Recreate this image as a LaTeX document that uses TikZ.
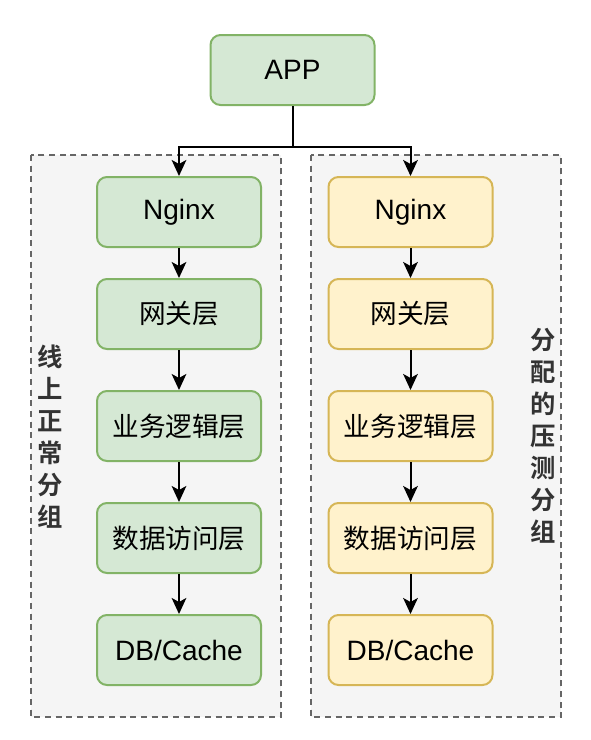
\documentclass[tikz,border=0pt]{standalone}
\usepackage{fontspec}
\setmainfont{Liberation Sans}
\newfontfamily\cjk{Noto Sans CJK SC}[BoldFont={Noto Sans CJK SC Bold}]
\usetikzlibrary{arrows.meta}

\definecolor{grpfill}{RGB}{245,245,245}
\definecolor{grpline}{RGB}{102,102,102}
\definecolor{greenfill}{RGB}{213,232,212}
\definecolor{greenline}{RGB}{130,179,102}
\definecolor{yellowfill}{RGB}{255,242,204}
\definecolor{yellowline}{RGB}{214,182,86}
\definecolor{labeltext}{RGB}{51,51,51}

\tikzset{every picture/.style={line width=1.5pt}}
\tikzset{
  layerbox/.style={rounded corners=7.5pt, minimum width=123pt, minimum height=52.5pt,
    inner sep=0pt, font=\fontsize{21}{25}\selectfont},
  onlinebox/.style={layerbox, draw=greenline, fill=greenfill},
  testbox/.style={layerbox, draw=yellowline, fill=yellowfill},
  zhtext/.style={font=\cjk\fontsize{20}{24}\selectfont},
  grouplabel/.style={align=center, inner sep=0pt, text=labeltext,
    font=\cjk\bfseries\fontsize{19}{24}\selectfont},
  arr/.style={-{Stealth[length=12pt, width=11pt, inset=3pt]}}
}

\begin{document}
\begin{tikzpicture}[x=0.75pt,y=0.75pt,yscale=-1,xscale=1]
\useasboundingbox (0,0) rectangle (590,740); %set diagram size 590x740

%Shape: Rectangle [id:grp_online] 
\draw [draw=grpline, fill=grpfill, line width=1.5pt, dash pattern=on 4.5pt off 3.5pt] (31,155) rectangle (281,717) ;
%Shape: Rectangle [id:grp_test] 
\draw [draw=grpline, fill=grpfill, line width=1.5pt, dash pattern=on 4.5pt off 3.5pt] (311,155) rectangle (561,717) ;

%Shape: Rounded Rectangle [id:app] 
\node [onlinebox] (app) at (292.5,70) {APP};

%Shape: Rounded Rectangles, online group
\node [onlinebox] (on_nginx) at (179,212) {Nginx};
\node [onlinebox, zhtext] (on_gw) at (179,314) {网关层};
\node [onlinebox, zhtext] (on_biz) at (179,426) {业务逻辑层};
\node [onlinebox, zhtext] (on_dao) at (179,538) {数据访问层};
\node [onlinebox] (on_db) at (179,650) {DB/Cache};

%Shape: Rounded Rectangles, test group
\node [testbox] (ts_nginx) at (410.5,212) {Nginx};
\node [testbox, zhtext] (ts_gw) at (410.5,314) {网关层};
\node [testbox, zhtext] (ts_biz) at (410.5,426) {业务逻辑层};
\node [testbox, zhtext] (ts_dao) at (410.5,538) {数据访问层};
\node [testbox] (ts_db) at (410.5,650) {DB/Cache};

%Straight Lines [id:split] 
\coordinate (split) at (292.5,147);
\draw [arr] (app.south) -- (split) -| (on_nginx.north) ;
\draw [arr] (split) -| (ts_nginx.north) ;

%Straight Lines, inside groups
\foreach \grp in {on,ts}{
  \draw [arr] (\grp_nginx) -- (\grp_gw) ;
  \draw [arr] (\grp_gw) -- (\grp_biz) ;
  \draw [arr] (\grp_biz) -- (\grp_dao) ;
  \draw [arr] (\grp_dao) -- (\grp_db) ;
}

% Text Node
\node [grouplabel] (lbl_online) at (50,437) {线\\上\\正\\常\\分\\组};
% Text Node
\node [grouplabel] (lbl_test) at (543,436) {分\\配\\的\\压\\测\\分\\组};

\end{tikzpicture}
\end{document}
